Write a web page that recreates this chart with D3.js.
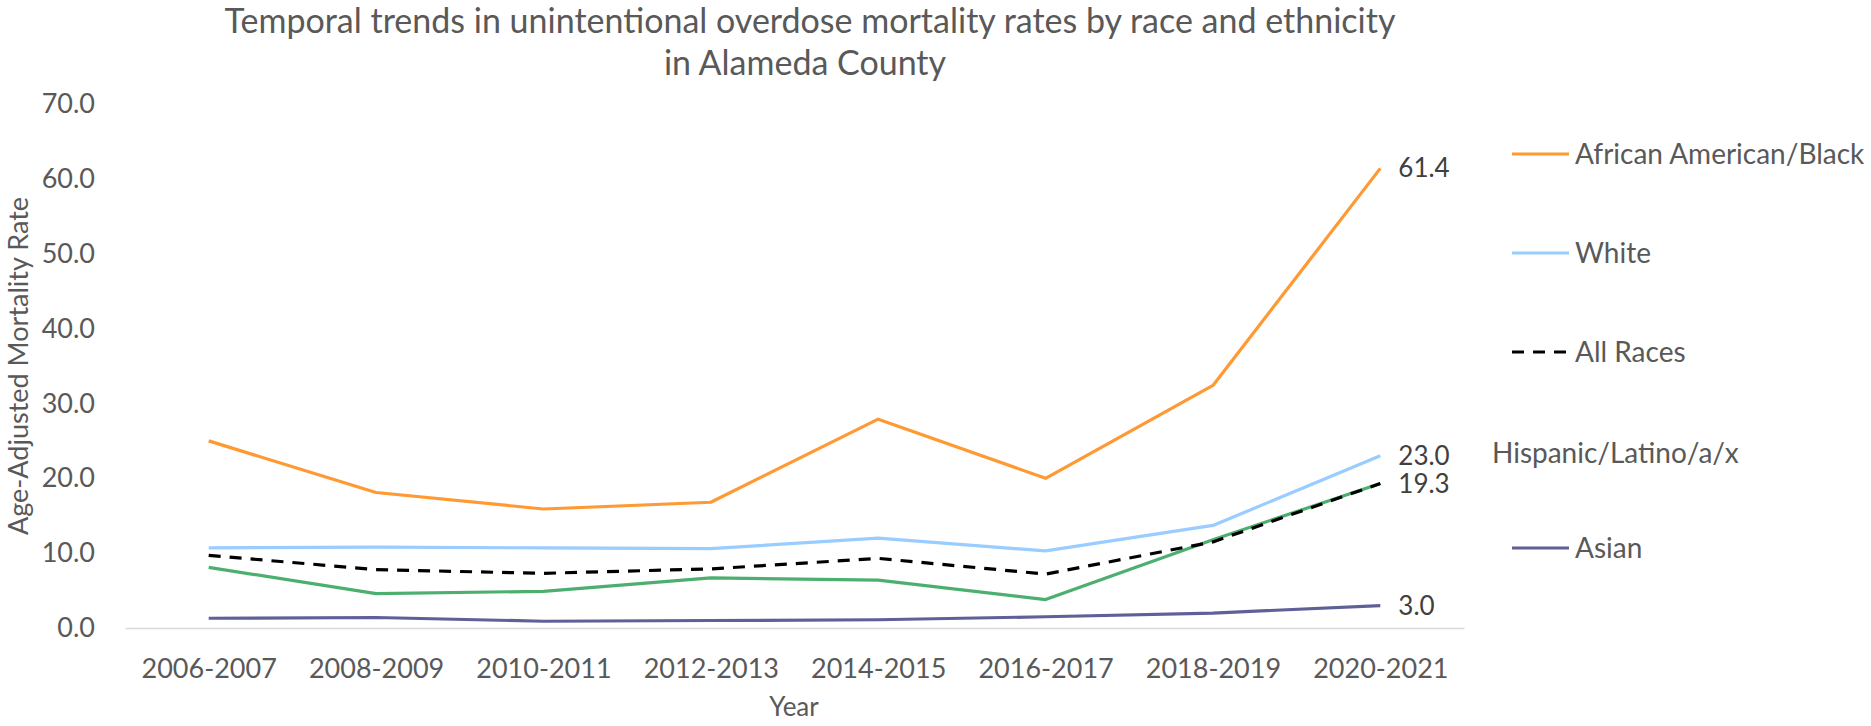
<!DOCTYPE html>
<html lang="en">
  <head>
    <meta charset="UTF-8" />
    <title>Unintentional overdose mortality - Alameda County</title>
    <script src="https://cdn.jsdelivr.net/npm/d3@7"></script>
    <style>
      body {
        margin: 0;
        background: #fff;
      }
      svg text {
        font-family: Lato, "Open Sans", sans-serif;
      }
    </style>
  </head>

  <body>
    <div id="chart"></div>

    <script>
      // Data
      const years = [
        "2006-2007",
        "2008-2009",
        "2010-2011",
        "2012-2013",
        "2014-2015",
        "2016-2017",
        "2018-2019",
        "2020-2021",
      ];
      const africanAmerican = [25.0, 18.1, 15.9, 16.8, 27.9, 20.0, 32.4, 61.4];
      const white = [10.7, 10.8, 10.7, 10.6, 12.0, 10.3, 13.7, 23.0];
      const allRaces = [9.7, 7.8, 7.3, 7.9, 9.3, 7.2, 11.5, 19.3];
      const hispanic = [8.1, 4.6, 4.9, 6.7, 6.4, 3.8, 11.8, 19.3];
      const asian = [1.3, 1.4, 0.9, 1.0, 1.1, 1.5, 2.0, 3.0];
      const yTicks = [0, 10, 20, 30, 40, 50, 60, 70];

      const series = [
        { name: "African American/Black", values: africanAmerican, color: "#FF9933", dash: null, legend: true },
        { name: "White", values: white, color: "#99CCFF", dash: null, legend: true },
        { name: "All Races", values: allRaces, color: "#000000", dash: "12,9", legend: true },
        { name: "Hispanic/Latino/a/x", values: hispanic, color: "#4CAF6F", dash: null, legend: false },
        { name: "Asian", values: asian, color: "#606098", dash: null, legend: true },
      ];

      const width = 1871,
        height = 726;

      const svg = d3
        .select("#chart")
        .append("svg")
        .attr("width", width)
        .attr("height", height);

      // scales
      const x = d3.scalePoint().domain(years).range([125, 1464]).padding(0.5);
      const y = d3.scaleLinear().domain([0, 70]).range([628, 104]);

      // title
      const title = svg
        .append("text")
        .attr("text-anchor", "middle")
        .attr("fill", "#595959")
        .style("font-size", "34px");
      title.append("tspan").attr("x", 810).attr("y", 33).text("Temporal trends in unintentional overdose mortality rates by race and ethnicity");
      title.append("tspan").attr("x", 805).attr("y", 75).text("in Alameda County");

      // x axis
      const xAxis = svg
        .append("g")
        .attr("transform", "translate(0,628)")
        .call(d3.axisBottom(x).tickSize(0).tickSizeOuter(0).tickPadding(31));
      xAxis.select(".domain").attr("stroke", "#D9D9D9").attr("stroke-width", 1.5);
      xAxis.selectAll("text").attr("fill", "#595959").style("font-size", "27px");

      // y axis (labels only)
      const yAxis = svg
        .append("g")
        .attr("transform", "translate(125,0)")
        .call(
          d3
            .axisLeft(y)
            .tickValues(yTicks)
            .tickFormat(d3.format(".1f"))
            .tickSize(0)
            .tickPadding(30)
        );
      yAxis.select(".domain").remove();
      yAxis.selectAll("text").attr("fill", "#595959").style("font-size", "27px");

      // axis titles
      svg
        .append("text")
        .attr("x", 794)
        .attr("y", 716)
        .attr("text-anchor", "middle")
        .attr("fill", "#595959")
        .style("font-size", "26px")
        .text("Year");

      svg
        .append("text")
        .attr("transform", "translate(28,366) rotate(-90)")
        .attr("text-anchor", "middle")
        .attr("fill", "#595959")
        .style("font-size", "27px")
        .text("Age-Adjusted Mortality Rate");

      // lines
      const line = d3
        .line()
        .x((d, i) => x(years[i]))
        .y((d) => y(d));

      // draw bottom series first so orange/blue sit on top like the original
      const drawOrder = [4, 3, 2, 1, 0];
      drawOrder.forEach((k) => {
        const s = series[k];
        svg
          .append("path")
          .datum(s.values)
          .attr("fill", "none")
          .attr("stroke", s.color)
          .attr("stroke-width", 3.2)
          .attr("stroke-dasharray", s.dash)
          .attr("stroke-linejoin", "round")
          .attr("d", line);
      });

      // end labels (All Races shares 19.3 with Hispanic, so it gets none)
      const last = years.length - 1;
      series
        .filter((s) => s.name !== "All Races")
        .forEach((s) => {
          svg
            .append("text")
            .attr("x", x(years[last]) + 18)
            .attr("y", y(s.values[last]))
            .attr("dy", "0.35em")
            .attr("fill", "#404040")
            .style("font-size", "26px")
            .text(d3.format(".1f")(s.values[last]));
        });

      // legend
      const legendY = [154, 253, 352, 453, 548];
      series.forEach((s, i) => {
        const g = svg.append("g").attr("transform", "translate(0," + legendY[i] + ")");
        if (s.legend) {
          g.append("line")
            .attr("x1", 1512)
            .attr("x2", 1569)
            .attr("stroke", s.color)
            .attr("stroke-width", 3.2)
            .attr("stroke-dasharray", s.dash);
        }
        g.append("text")
          .attr("x", s.legend ? 1575 : 1492)
          .attr("dy", "0.35em")
          .attr("fill", "#595959")
          .style("font-size", "28px")
          .text(s.name);
      });
    </script>
  </body>
</html>
